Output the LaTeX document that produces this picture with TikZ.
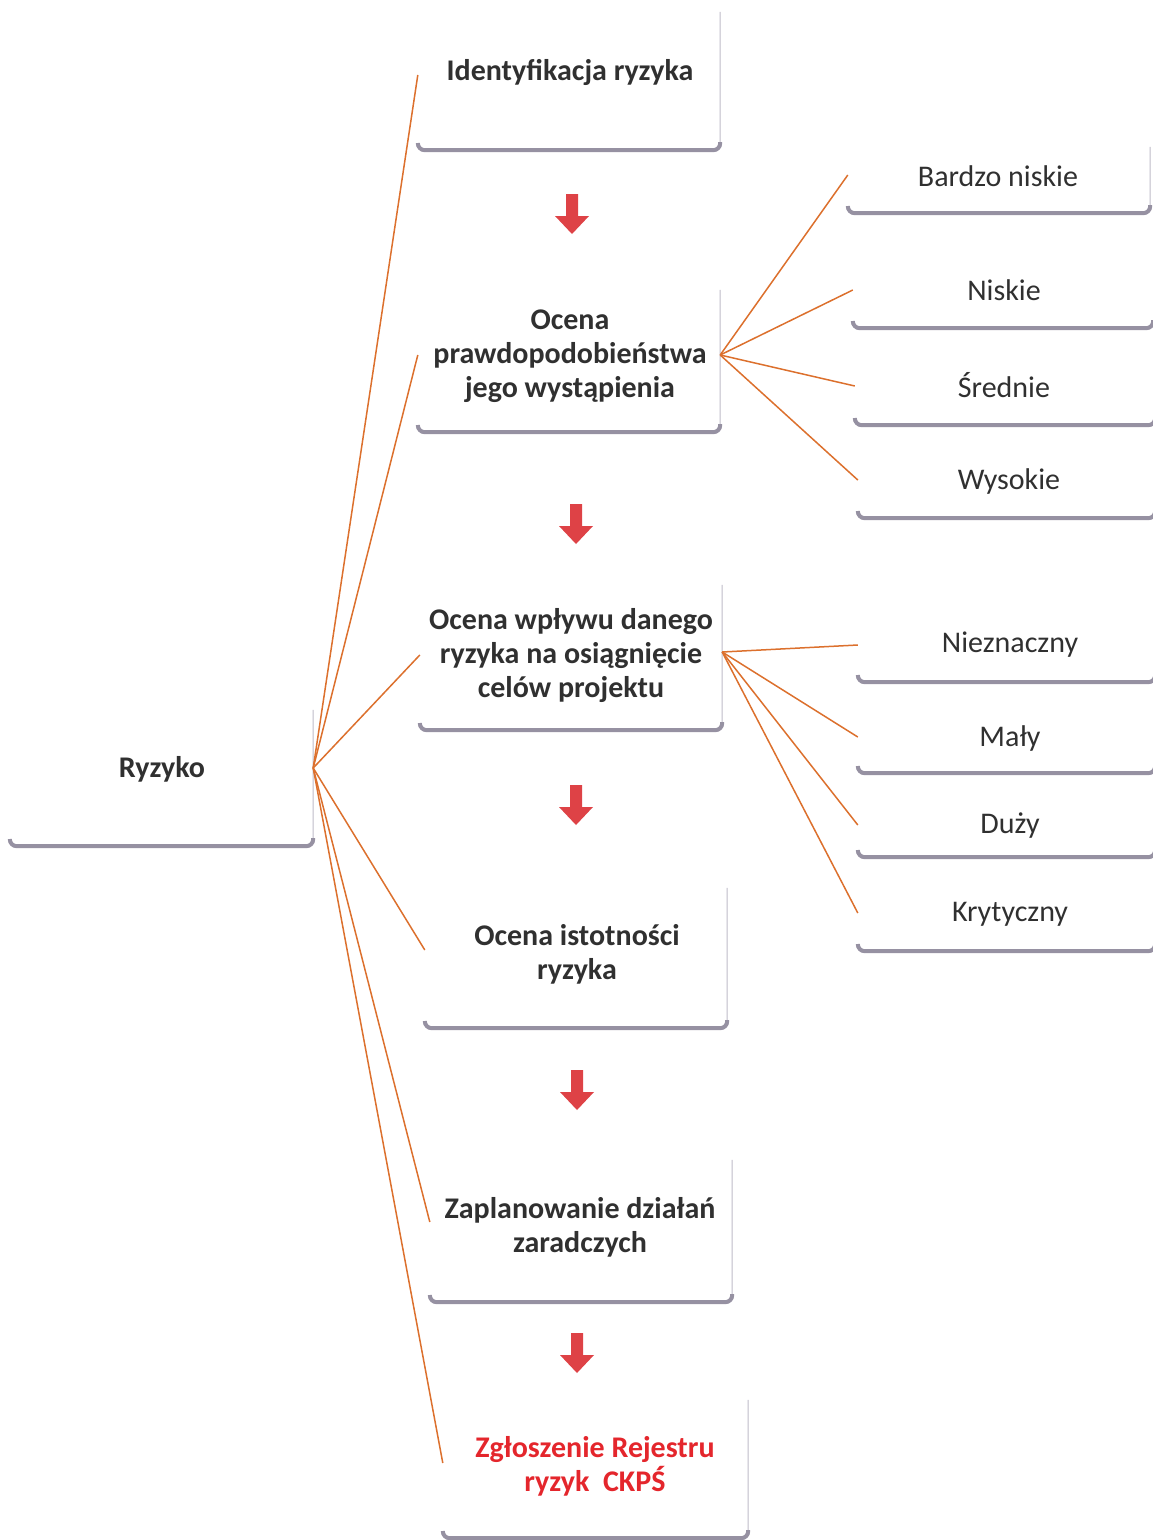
\documentclass[tikz,border=0pt]{standalone}
\usepackage{fontspec}
\setmainfont{Carlito}
\usetikzlibrary{calc}
\definecolor{conn}{RGB}{220,112,45}
\definecolor{arr}{RGB}{222,66,70}
\definecolor{shade}{RGB}{150,145,162}
\definecolor{edgec}{RGB}{190,187,200}
\definecolor{txt}{RGB}{48,48,48}
\definecolor{redtxt}{RGB}{228,38,44}
\begin{document}
\begin{tikzpicture}[x=1pt,y=-1pt,
  boxn/.style={rectangle, inner sep=0pt, minimum width=#1},
  mtext/.style={inner sep=0pt, align=center, text=txt, font=\bfseries\fontsize{30}{34}\selectfont},
  stext/.style={inner sep=0pt, align=center, text=txt, font=\fontsize{30}{34}\selectfont},
  link/.style={draw=conn, line width=1.5pt},
  sideedge/.style={draw=edgec, line width=1pt, rounded corners=9pt},
  shadowedge/.style={draw=shade, line width=4pt, rounded corners=7pt},
  blockarrow/.pic={\fill[arr] (-6,-20) -- (6,-20) -- (6,2) -- (17,2) -- (0,20) -- (-17,2) -- (-6,2) -- cycle;}
]
\useasboundingbox (0,0) rectangle (1153,1540);
% main column boxes (centred on the connector height)
\node[boxn=302, minimum height=150] (b1) at (569,75) {};
\node[boxn=302, minimum height=154] (b2) at (569,355) {};
\node[boxn=302, minimum height=150] (b3) at (571,655) {};
\node[boxn=302, minimum height=156] (b4) at (576,950) {};
\node[boxn=302, minimum height=160] (b5) at (581,1222) {};
\node[boxn=305, minimum height=150] (b6) at (595.5,1463) {};
\node[boxn=303, minimum height=156] (r) at (161.5,768) {};
% right boxes
\node[boxn=302, minimum height=76] (p1) at (999,175) {};
\node[boxn=300, minimum height=76] (p2) at (1003,290) {};
\node[boxn=300, minimum height=78] (p3) at (1005,386) {};
\node[boxn=297, minimum height=76] (p4) at (1006.5,480) {};
\node[boxn=297, minimum height=74] (q1) at (1006.5,645) {};
\node[boxn=297, minimum height=72] (q2) at (1006.5,737) {};
\node[boxn=297, minimum height=64] (q3) at (1006.5,825) {};
\node[boxn=297, minimum height=76] (q4) at (1006.5,913) {};
% box edges
\foreach \n/\t in {b1/12,b2/12,b3/5,b4/16,b5/18,b6/12,r/20,p1/10}{
  \draw[sideedge] ([yshift=-\t pt]\n.north east) -- (\n.south east) -- ([xshift=-30pt]\n.south east);
}
\foreach \n in {b1,b2,b3,b4,b5,b6,r,p1,p2,p3,p4,q1,q2,q3,q4}{
  \draw[shadowedge] ([yshift=6pt]\n.south west) -- (\n.south west) -- (\n.south east) -- ([yshift=8pt]\n.south east);
}
% texts
\node[mtext] (t1) at (570,72) {Identyfikacja ryzyka};
\node[mtext] (t2) at (570,356) {Ocena\\prawdopodobieństwa\\jego wystąpienia};
\node[mtext] (t3) at (571,655) {Ocena wpływu danego\\ryzyka na osiągnięcie\\celów projektu};
\node[mtext] (t4) at (577,954) {Ocena istotności\\ryzyka};
\node[mtext] (t5) at (580,1227) {Zaplanowanie działań\\zaradczych};
\node[mtext, text=redtxt] (t6) at (595,1466) {Zgłoszenie Rejestru\\ryzyk\ \ CKPŚ};
\node[mtext] (tr) at (162,769) {Ryzyko};
\node[stext] (s1) at (998,176) {Bardzo niskie};
\node[stext] (s2) at (1004,290) {Niskie};
\node[stext] (s3) at (1004,385) {Średnie};
\node[stext] (s4) at (1009,481) {Wysokie};
\node[stext] (s5) at (1010,645) {Nieznaczny};
\node[stext] (s6) at (1010,738) {Mały};
\node[stext] (s7) at (1010,826) {Duży};
\node[stext] (s8) at (1010,914) {Krytyczny};
% connectors
\foreach \n in {b1,b2,b3,b4,b5,b6}{ \draw[link] (r.east) -- (\n.west); }
\foreach \n in {p1,p2,p3,p4}{ \draw[link] (b2.east) -- (\n.west); }
\foreach \n in {q1,q2,q3,q4}{ \draw[link] ([yshift=3pt]b3.east) -- (\n.west); }
% red block arrows
\pic at (572,214) {blockarrow};
\pic at (576,524) {blockarrow};
\pic at (576,805) {blockarrow};
\pic at (577,1090) {blockarrow};
\pic at (577,1353) {blockarrow};
\end{tikzpicture}
\end{document}
